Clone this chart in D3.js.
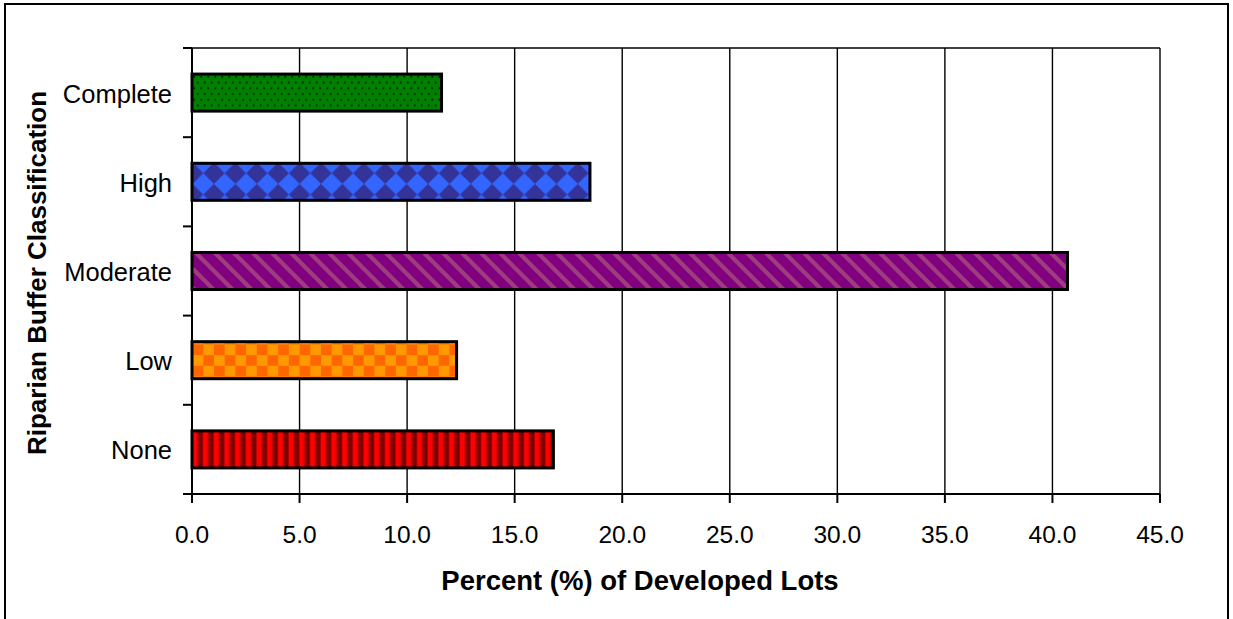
<!DOCTYPE html>
<html>
<head>
<meta charset="utf-8">
<script src="https://cdn.jsdelivr.net/npm/d3@7"></script>
<style>
  html, body { margin: 0; padding: 0; background: #fff; }
  svg { display: block; font-family: "Liberation Sans", Arial, sans-serif; }
</style>
</head>
<body>
<svg id="chart" width="1233" height="619"></svg>
<script>
// Riparian buffer classes, listed top to bottom
const categories = ["Complete", "High", "Moderate", "Low", "None"];
// Percent of developed lots in each class
const values = [11.6, 18.5, 40.7, 12.3, 16.8];
// Value-axis tick labels
const tickValues = [0, 5, 10, 15, 20, 25, 30, 35, 40, 45];
const xTitle = "Percent (%) of Developed Lots";
const yTitle = "Riparian Buffer Classification";

const svg = d3.select("#chart");
const W = 1233, H = 619;
const plot = { left: 192, right: 1160, top: 48, bottom: 494 };

// Outer chart border
svg.append("rect")
  .attr("x", 5).attr("y", 4).attr("width", W - 10).attr("height", H + 10)
  .attr("fill", "#fff").attr("stroke", "#000").attr("stroke-width", 2);

// Fill patterns for each bar
const defs = svg.append("defs");

// Complete: green with dark dots
const pGreen = defs.append("pattern").attr("id", "pat-complete")
  .attr("patternUnits", "userSpaceOnUse").attr("width", 7).attr("height", 11.4);
pGreen.append("rect").attr("width", 7).attr("height", 11.4).attr("fill", "#008000");
pGreen.append("circle").attr("cx", 1.75).attr("cy", 2.85).attr("r", 1.1).attr("fill", "#003300");
pGreen.append("circle").attr("cx", 5.25).attr("cy", 8.55).attr("r", 1.1).attr("fill", "#003300");

// High: blue diamond checker
const pBlue = defs.append("pattern").attr("id", "pat-high")
  .attr("patternUnits", "userSpaceOnUse").attr("width", 21.4).attr("height", 21.4)
  .attr("y", 2);
pBlue.append("rect").attr("width", 21.4).attr("height", 21.4).attr("fill", "#333399");
pBlue.append("path").attr("d", "M10.7,0 L21.4,10.7 L10.7,21.4 L0,10.7 Z").attr("fill", "#3366FF");

// Moderate: purple with diagonal stripes
const pPurple = defs.append("pattern").attr("id", "pat-moderate")
  .attr("patternUnits", "userSpaceOnUse").attr("width", 19).attr("height", 19);
pPurple.append("rect").attr("width", 19).attr("height", 19).attr("fill", "#800080");
pPurple.append("path")
  .attr("d", "M-5,-5 L24,24 M-5,14 L5,24 M14,-5 L24,5")
  .attr("stroke", "#9E3D7E").attr("stroke-width", 4.2).attr("fill", "none");

// Low: orange checker
const pOrange = defs.append("pattern").attr("id", "pat-low")
  .attr("patternUnits", "userSpaceOnUse").attr("width", 21.4).attr("height", 21.4)
  .attr("y", 2);
pOrange.append("rect").attr("width", 21.4).attr("height", 21.4).attr("fill", "#FF9900");
pOrange.append("rect").attr("width", 10.7).attr("height", 10.7).attr("fill", "#FF6600");
pOrange.append("rect").attr("x", 10.7).attr("y", 10.7).attr("width", 10.7).attr("height", 10.7).attr("fill", "#FF6600");

// None: red vertical stripes
const pRed = defs.append("pattern").attr("id", "pat-none")
  .attr("patternUnits", "userSpaceOnUse").attr("width", 10.7).attr("height", 10);
const redGrad = defs.append("linearGradient").attr("id", "grad-red")
  .attr("x1", 0).attr("x2", 1).attr("y1", 0).attr("y2", 0);
[["0%", "#FF0000"], ["35%", "#FF0000"], ["55%", "#990000"], ["85%", "#660000"], ["100%", "#CC0000"]]
  .forEach(([o, c]) => redGrad.append("stop").attr("offset", o).attr("stop-color", c));
pRed.append("rect").attr("width", 10.7).attr("height", 10).attr("fill", "url(#grad-red)");

const patternIds = {
  "Complete": "pat-complete", "High": "pat-high", "Moderate": "pat-moderate",
  "Low": "pat-low", "None": "pat-none"
};

// Scales
const x = d3.scaleLinear().domain([0, 45]).range([plot.left, plot.right]);
const y = d3.scaleBand().domain(categories).range([plot.top, plot.bottom]).paddingInner(0.585).paddingOuter(0.2925);
const yBoundary = d3.scaleLinear().domain([0, categories.length]).range([plot.top, plot.bottom]);

// Vertical gridlines
svg.append("g").selectAll("line").data(tickValues.slice(1)).join("line")
  .attr("x1", d => x(d)).attr("x2", d => x(d))
  .attr("y1", plot.top).attr("y2", plot.bottom)
  .attr("stroke", "#000").attr("stroke-width", 1.4);

// Top edge of plot area
svg.append("line")
  .attr("x1", plot.left).attr("x2", plot.right)
  .attr("y1", plot.top).attr("y2", plot.top)
  .attr("stroke", "#000").attr("stroke-width", 1.4);

// Bars
svg.append("g").selectAll("rect").data(categories).join("rect")
  .attr("x", x(0))
  .attr("y", d => y(d))
  .attr("width", (d, i) => x(values[i]) - x(0))
  .attr("height", y.bandwidth())
  .attr("fill", d => `url(#${patternIds[d]})`)
  .attr("stroke", "#000").attr("stroke-width", 3);

// Category axis: line, boundary ticks and labels
const yAxis = svg.append("g");
yAxis.append("line")
  .attr("x1", plot.left).attr("x2", plot.left)
  .attr("y1", plot.top).attr("y2", plot.bottom + 6)
  .attr("stroke", "#000").attr("stroke-width", 2);
yAxis.selectAll("line.tick").data(d3.range(categories.length + 1)).join("line")
  .attr("class", "tick")
  .attr("x1", plot.left - 9).attr("x2", plot.left)
  .attr("y1", d => yBoundary(d)).attr("y2", d => yBoundary(d))
  .attr("stroke", "#000").attr("stroke-width", 2);
yAxis.selectAll("text").data(categories).join("text")
  .attr("x", plot.left - 20)
  .attr("y", d => y(d) + y.bandwidth() / 2 + 1)
  .attr("dy", "0.35em")
  .attr("text-anchor", "end")
  .attr("font-size", 25.5)
  .text(d => d);

// Value axis
const xAxis = svg.append("g");
xAxis.append("line")
  .attr("x1", plot.left - 9).attr("x2", plot.right)
  .attr("y1", plot.bottom).attr("y2", plot.bottom)
  .attr("stroke", "#000").attr("stroke-width", 2);
xAxis.selectAll("line.tick").data(tickValues).join("line")
  .attr("class", "tick")
  .attr("x1", d => x(d)).attr("x2", d => x(d))
  .attr("y1", plot.bottom).attr("y2", plot.bottom + 9)
  .attr("stroke", "#000").attr("stroke-width", 2);
xAxis.selectAll("text").data(tickValues).join("text")
  .attr("x", d => x(d))
  .attr("y", 543)
  .attr("text-anchor", "middle")
  .attr("font-size", 24.5)
  .text(d => d3.format(".1f")(d));

// Axis titles
svg.append("text")
  .attr("x", 640).attr("y", 590)
  .attr("text-anchor", "middle")
  .attr("font-size", 27.5).attr("font-weight", "bold")
  .text(xTitle);

svg.append("text")
  .attr("transform", "translate(46,273) rotate(-90)")
  .attr("text-anchor", "middle")
  .attr("font-size", 26).attr("font-weight", "bold")
  .text(yTitle);
</script>
</body>
</html>
